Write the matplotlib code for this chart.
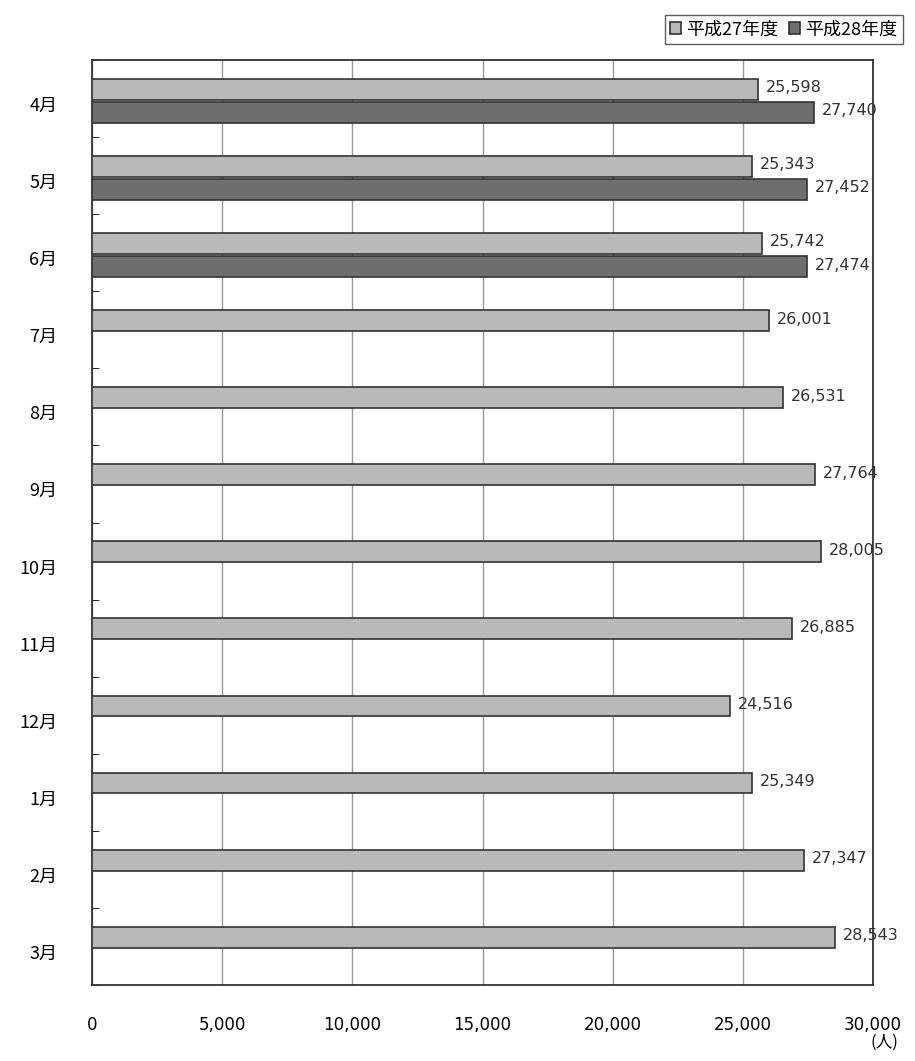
import matplotlib
matplotlib.use("Agg")
import matplotlib.pyplot as plt
import numpy as np

plt.rcParams['font.family'] = ['Noto Sans CJK JP', 'DejaVu Sans']

months = ['4月','5月','6月','7月','8月','9月','10月','11月','12月','1月','2月','3月']
h27 = [25598,25343,25742,26001,26531,27764,28005,26885,24516,25349,27347,28543]
h28 = [27740,27452,27474]
xticks = [0,5000,10000,15000,20000,25000,30000]

fig = plt.figure(figsize=(9.15,10.61), dpi=100)
ax = fig.add_axes([92/915, 1-985/1061, 781/915, 925/1061])
y = np.arange(len(months))
bh = 0.27
ax.barh(y-0.12, h27, height=bh, color='#b9b9b9', edgecolor='#333333', linewidth=1.2, label='平成27年度', zorder=3)
ax.barh(y[:3]+0.18, h28, height=bh, color='#6e6e6e', edgecolor='#333333', linewidth=1.2, label='平成28年度', zorder=3)
for i,v in enumerate(h27):
    ax.text(v+300, i-0.14, f"{v:,}", va='center', fontsize=11.5, color='#333333', family='DejaVu Sans')
for i,v in enumerate(h28):
    ax.text(v+300, i+0.16, f"{v:,}", va='center', fontsize=11.5, color='#333333', family='DejaVu Sans')
ax.set_xlim(0,30000)
ax.set_ylim(len(months)-0.5, -0.5)
ax.set_yticks(y+0.07)
ax.set_yticklabels(months, fontsize=13)
ax.set_yticks(np.arange(-0.5, len(months)), minor=True)
ax.tick_params(axis='y', which='major', length=0, pad=25)
ax.tick_params(axis='y', which='minor', length=5, direction='in')
ax.set_xticks(xticks)
ax.set_xticklabels([f"{t:,}" for t in xticks], fontsize=12, family='DejaVu Sans')
ax.tick_params(axis='x', length=0, pad=22)
ax.grid(axis='x', color='#999999', linewidth=1, zorder=0)
for s in ax.spines.values():
    s.set_color('#333333'); s.set_linewidth(1.3)
fig.text(884/915, 1-1042/1061, '(人)', ha='center', va='center', fontsize=12)
leg = fig.legend(loc='upper right', bbox_to_anchor=(912/915, 1-6/1061), ncol=2, fontsize=13,
                 handlelength=0.6, handleheight=0.6, handletextpad=0.3, columnspacing=0.6,
                 fancybox=False, edgecolor='#333333', borderpad=0.3)
fig.savefig('out.png', dpi=100)
